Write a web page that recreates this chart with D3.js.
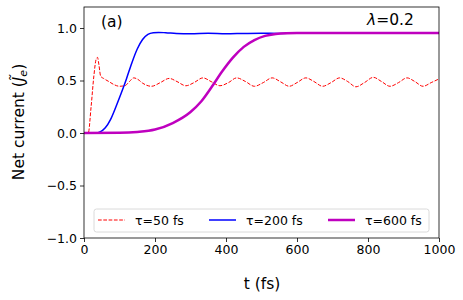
<!DOCTYPE html>
<html>
<head>
<meta charset="utf-8">
<script src="https://cdn.jsdelivr.net/npm/d3@7"></script>
<style>
  body { margin: 0; background: #fff; }
  svg { font-family: "DejaVu Sans", sans-serif; }
</style>
</head>
<body>
<svg width="463" height="300"></svg>
<script>
// данные: [t (fs), ток]
const tau50 = [
  [0, 0], [12, 0], [20, 0.25], [28, 0.55], [34, 0.70], [38, 0.72], [42, 0.65], [47, 0.54],
  [55, 0.52], [70, 0.49], [85, 0.46], [100, 0.445], [115, 0.45], [128, 0.49], [140, 0.525],
  [152, 0.51], [165, 0.475], [190, 0.445], [215, 0.48], [240, 0.52], [262, 0.49], [287, 0.45],
  [310, 0.48], [335, 0.525], [358, 0.49], [383, 0.45], [407, 0.48], [430, 0.525], [455, 0.49],
  [480, 0.445], [505, 0.48], [530, 0.525], [555, 0.485], [578, 0.445], [600, 0.48], [625, 0.525],
  [648, 0.49], [672, 0.445], [696, 0.48], [720, 0.525], [743, 0.49], [766, 0.44], [790, 0.48],
  [815, 0.53], [838, 0.49], [862, 0.445], [886, 0.48], [910, 0.525], [932, 0.49], [955, 0.445],
  [978, 0.48], [1000, 0.515]
];
const tau200 = [
  [0, 0], [35, 0], [45, 0.01], [60, 0.05], [75, 0.13], [90, 0.25], [105, 0.38], [120, 0.52],
  [135, 0.67], [150, 0.8], [165, 0.89], [180, 0.94], [195, 0.955], [210, 0.958], [230, 0.955],
  [260, 0.948], [300, 0.945], [350, 0.95], [400, 0.945], [450, 0.948], [500, 0.95], [550, 0.948],
  [600, 0.95], [700, 0.95], [800, 0.95], [900, 0.95], [1000, 0.95]
];
const tau600 = [
  [0, 0], [100, 0.002], [150, 0.01], [200, 0.033], [250, 0.095], [300, 0.2], [330, 0.3],
  [360, 0.44], [390, 0.59], [420, 0.72], [450, 0.82], [480, 0.885], [510, 0.925], [540, 0.943],
  [570, 0.95], [600, 0.952], [700, 0.952], [800, 0.952], [900, 0.952], [1000, 0.952]
];
const xTicks = [0, 200, 400, 600, 800, 1000];
const yTicks = [-1.0, -0.5, 0.0, 0.5, 1.0];
const seriesNames = ["τ=50 fs", "τ=200 fs", "τ=600 fs"];

const svg = d3.select("svg");
const area = { left: 84, right: 439, top: 7, bottom: 238 };

const scX = d3.scaleLinear().domain([0, 1000]).range([area.left, area.right]);
const scY = d3.scaleLinear().domain([-1, 1.2]).range([area.bottom, area.top]);

const fmt = d => d3.format(".1f")(d).replace("-", "\u2212");

// оси
const axX = svg.append("g")
  .attr("transform", `translate(0, ${area.bottom})`)
  .call(d3.axisBottom(scX).tickValues(xTicks).tickFormat(d3.format("d"))
    .tickSize(4).tickPadding(3).tickSizeOuter(0));
const axY = svg.append("g")
  .attr("transform", `translate(${area.left}, 0)`)
  .call(d3.axisLeft(scY).tickValues(yTicks).tickFormat(fmt).tickSize(4).tickPadding(3).tickSizeOuter(0));
[axX, axY].forEach(g => {
  g.selectAll("text").style("font-size", "12.5px").attr("fill", "#000")
    .style("font-family", "DejaVu Sans");
  g.select(".domain").remove();
  g.selectAll("line").attr("stroke", "#000").attr("stroke-width", 0.8);
});

// кривые
const line = d3.line().x(d => scX(d[0])).y(d => scY(d[1])).curve(d3.curveMonotoneX);

const styles = [
  { data: tau50, color: "#ff0000", width: 1, dash: "3.7,1.6" },
  { data: tau200, color: "#0000ff", width: 1.5, dash: null },
  { data: tau600, color: "#bf00bf", width: 2.5, dash: null }
];

svg.append("clipPath").attr("id", "clip")
  .append("rect").attr("x", area.left).attr("y", area.top)
  .attr("width", area.right - area.left).attr("height", area.bottom - area.top);

styles.forEach(s => {
  svg.append("path")
    .datum(s.data)
    .attr("d", line)
    .attr("fill", "none")
    .attr("stroke", s.color)
    .attr("stroke-width", s.width)
    .attr("stroke-dasharray", s.dash)
    .attr("clip-path", "url(#clip)");
});

// рамка
svg.append("rect")
  .attr("x", area.left).attr("y", area.top)
  .attr("width", area.right - area.left).attr("height", area.bottom - area.top)
  .attr("fill", "none").attr("stroke", "#000").attr("stroke-width", 0.8);

// легенда
svg.append("rect")
  .attr("x", 94).attr("y", 209).attr("width", 335).attr("height", 23)
  .attr("rx", 2.5).attr("fill", "#fff").attr("fill-opacity", 0.8)
  .attr("stroke", "#d0d0d0").attr("stroke-width", 0.8);

const legX = [98, 209, 328];
styles.forEach((s, i) => {
  svg.append("line")
    .attr("x1", legX[i]).attr("x2", legX[i] + 27)
    .attr("y1", 220).attr("y2", 220)
    .attr("stroke", s.color).attr("stroke-width", s.width)
    .attr("stroke-dasharray", s.dash);
  svg.append("text")
    .attr("x", legX[i] + 37).attr("y", 224.5)
    .style("font-size", "12.5px")
    .text(seriesNames[i]);
});

// подписи
svg.append("text").attr("x", 101).attr("y", 27).style("font-size", "15.5px").text("(a)");
const lam = svg.append("text").attr("x", 367).attr("y", 25).style("font-size", "15.5px");
lam.append("tspan").style("font-style", "italic").text("λ");
lam.append("tspan").text("=0.2");

svg.append("text")
  .attr("x", 262).attr("y", 289)
  .attr("text-anchor", "middle")
  .style("font-size", "15.5px")
  .text("t (fs)");

const yl = svg.append("text")
  .attr("transform", `translate(24, 122) rotate(-90)`)
  .attr("text-anchor", "middle")
  .style("font-size", "15.5px");
yl.append("tspan").text("Net current (");
yl.append("tspan").style("font-style", "italic").text("J\u0303");
yl.append("tspan").style("font-style", "italic").style("font-size", "11px").attr("dy", 3).text("e");
yl.append("tspan").attr("dy", -3).text(")");
</script>
</body>
</html>
